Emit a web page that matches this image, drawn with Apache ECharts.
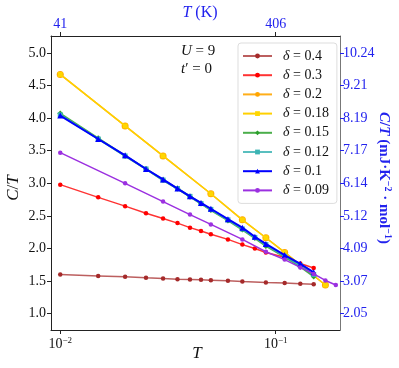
<!DOCTYPE html>
<html><head><meta charset="utf-8">
<script src="https://cdn.jsdelivr.net/npm/echarts@6/dist/echarts.min.js"></script>
<style>html,body{margin:0;padding:0;background:#fff}#c{width:399px;height:368px}</style>
</head><body><div id="c"></div>
<script>
// ---- data ----
const deltas = ['0.4','0.3','0.2','0.18','0.15','0.12','0.1','0.09'];
const T_04 = [0.01,0.015,0.02,0.025,0.03,0.035,0.04,0.045,0.05,0.06,0.07,0.09,0.11,0.13,0.15];
const v_04 = [1.60,1.58,1.565,1.55,1.54,1.53,1.525,1.52,1.515,1.505,1.495,1.48,1.47,1.46,1.45];
const T_03 = [0.01,0.015,0.02,0.025,0.03,0.035,0.04,0.045,0.05,0.06,0.07,0.08,0.09,0.11,0.13,0.15];
const v_03 = [2.98,2.785,2.65,2.54,2.46,2.39,2.32,2.27,2.22,2.14,2.06,2.0,1.94,1.865,1.77,1.70];
const T_02 = [0.01,0.02,0.03,0.05,0.07,0.09,0.11,0.17];
const v_02 = [4.67,3.88,3.42,2.84,2.44,2.165,1.94,1.44];
const T_018 = [0.01,0.02,0.03,0.05,0.07,0.09,0.11,0.17];
const v_018 = [4.67,3.88,3.42,2.84,2.44,2.165,1.94,1.44];
const T_mid = [0.01,0.015,0.02,0.025,0.03,0.035,0.04,0.045,0.05,0.06,0.07,0.08,0.09,0.11,0.13,0.15];
const v_015 = [4.07,3.69,3.42,3.22,3.05,2.92,2.795,2.69,2.59,2.43,2.29,2.16,2.04,1.87,1.72,1.57];
const v_012 = [4.05,3.68,3.42,3.22,3.05,2.92,2.80,2.69,2.60,2.44,2.30,2.17,2.06,1.88,1.74,1.60];
const v_01  = [4.04,3.68,3.43,3.22,3.06,2.92,2.80,2.70,2.61,2.45,2.32,2.18,2.07,1.90,1.765,1.635];
const T_009 = [0.01,0.02,0.03,0.04,0.05,0.07,0.09,0.11,0.13,0.15,0.17,0.19];
const v_009 = [3.47,3.0,2.72,2.52,2.37,2.14,1.95,1.83,1.71,1.61,1.51,1.44];
const leftTicks = [1.0,1.5,2.0,2.5,3.0,3.5,4.0,4.5,5.0];
const rightLabels = ['2.05','3.07','4.09','5.12','6.14','7.17','8.19','9.21','10.24'];
const topTickT = [0.01, 0.1];
const topLabels = ['41','406'];

const colors = ['#a52a2a','#ff0000','#ffa500','#ffd700','#2ca02c','#3cb4b4','#0000ff','#9b30e0'];
const lineColors = ['rgba(165,42,42,0.75)','rgba(255,0,0,0.8)','rgba(255,165,0,0.9)','#ffd000','rgba(44,160,44,0.85)','rgba(60,180,180,0.85)','#0000ff','#9b30e0'];
const symbols = ['circle','circle','circle','rect','diamond','rect','triangle','circle'];
const symSizes = [4.5,4.5,7,5,6,5,6,4.5];
const Ts = [T_04,T_03,T_02,T_018,T_mid,T_mid,T_mid,T_009];
const Vs = [v_04,v_03,v_02,v_018,v_015,v_012,v_01,v_009];

const SERIF = 'Liberation Serif, DejaVu Serif, serif';
const names = deltas.map(d => 'δ = ' + d);

const series = names.map((n, k) => ({
  name: n, type: 'line', xAxisIndex: 0, yAxisIndex: 0,
  data: Ts[k].map((t, i) => [t, Vs[k][i]]),
  symbol: symbols[k], symbolSize: symSizes[k], showAllSymbol: true,
  itemStyle: {color: colors[k]},
  lineStyle: {color: lineColors[k], width: k >= 4 && k <= 6 ? 2 : 1.5},
  animation: false, z: 2 + k
}));

const isPow10 = v => Math.abs(Math.log10(v) - Math.round(Math.log10(v))) < 1e-6;
const xmin = 0.00906, xmax = 0.1987;
const ymin = 0.75, ymax = 5.26;

const chart = echarts.init(document.getElementById('c'), null, {renderer: 'canvas'});
chart.setOption({
  backgroundColor: '#fff',
  animation: false,
  grid: {left: 51, right: 59, top: 36, bottom: 38, containLabel: false},
  xAxis: [
    {type: 'log', logBase: 10, min: xmin, max: xmax, position: 'bottom',
     axisLine: {show: true, lineStyle: {color: '#222', width: 1}},
     axisTick: {show: true, inside: false, length: 4, lineStyle: {color: '#222'}},
     splitLine: {show: false},
     axisLabel: {showMinLabel: false, showMaxLabel: false, margin: 6,
       formatter: v => isPow10(v) ? '{b|10}{s|' + (Math.round(Math.log10(v)) < 0 ? '−' : '') + Math.abs(Math.round(Math.log10(v))) + '}' : '',
       rich: {b: {fontFamily: SERIF, fontSize: 14, color: '#111'}, s: {fontFamily: SERIF, fontSize: 9, color: '#111', padding: [0,0,8,0]}}}},
    {type: 'log', logBase: 10, min: xmin, max: xmax, position: 'top',
     axisLine: {show: true, lineStyle: {color: '#222', width: 1}},
     axisTick: {show: true, inside: false, length: 4, lineStyle: {color: '#222'}},
     splitLine: {show: false},
     axisLabel: {showMinLabel: false, showMaxLabel: false, margin: 5, color: '#2222ee', fontFamily: SERIF, fontSize: 14,
       formatter: v => { for (let i = 0; i < topTickT.length; i++) if (Math.abs(v - topTickT[i]) < 1e-9) return topLabels[i]; return ''; }}}
  ],
  yAxis: [
    {type: 'value', min: ymin, max: ymax, splitNumber: 9, position: 'left',
     axisLine: {show: true, lineStyle: {color: '#222'}},
     axisTick: {show: true, inside: false, length: 4, lineStyle: {color: '#222'}},
     splitLine: {show: false},
     axisLabel: {showMinLabel: false, showMaxLabel: false, margin: 5, color: '#111', fontFamily: SERIF, fontSize: 14,
       formatter: v => { for (let i = 0; i < leftTicks.length; i++) if (Math.abs(v - leftTicks[i]) < 1e-6) return leftTicks[i].toFixed(1); return ''; }}},
    {type: 'value', min: ymin, max: ymax, splitNumber: 9, position: 'right',
     axisLine: {show: true, lineStyle: {color: '#777'}},
     axisTick: {show: true, inside: false, length: 4, lineStyle: {color: '#2222ee'}},
     splitLine: {show: false},
     axisLabel: {showMinLabel: false, showMaxLabel: false, margin: 3, color: '#2222ee', fontFamily: SERIF, fontSize: 14,
       formatter: v => { for (let i = 0; i < leftTicks.length; i++) if (Math.abs(v - leftTicks[i]) < 1e-6) return rightLabels[i]; return ''; }}}
  ],
  legend: {
    orient: 'vertical', left: 238, top: 43, width: 95,
    padding: [5, 8, 5, 4], itemGap: 3.2, itemWidth: 29, itemHeight: 6,
    backgroundColor: '#fff', borderColor: '#ddd', borderWidth: 1, borderRadius: 3,
    data: names,
    formatter: n => '{d|δ} = ' + n.slice(4),
    textStyle: {fontFamily: SERIF, fontSize: 14, color: '#111', lineHeight: 16, padding: [0,0,0,6],
      rich: {d: {fontFamily: SERIF, fontStyle: 'italic', fontSize: 14, color: '#111'}}}
  },
  graphic: [
    {type: 'text', left: 181, top: 44, style: {text: '{i|U} = 9', font: '15px ' + SERIF, fill: '#111',
      rich: {i: {fontStyle: 'italic', fontFamily: SERIF, fontSize: 15, fill: '#111'}}}},
    {type: 'text', left: 181, top: 62, style: {text: "{i|t}′ = 0", font: '15px ' + SERIF, fill: '#111',
      rich: {i: {fontStyle: 'italic', fontFamily: SERIF, fontSize: 15, fill: '#111'}}}},
    {type: 'text', x: 200, y: 13, style: {text: '{i|T} (K)', font: '16px ' + SERIF, fill: '#2222ee', align: 'center', verticalAlign: 'middle',
      rich: {i: {fontStyle: 'italic', fontFamily: SERIF, fontSize: 16, fill: '#2222ee'}}}},
    {type: 'text', x: 197, y: 354, style: {text: 'T', font: 'italic 17px ' + SERIF, fill: '#111', align: 'center', verticalAlign: 'middle'}},
    {type: 'text', x: 14, y: 188, rotation: Math.PI / 2, style: {text: '{i|C}/{i|T}', font: '17px ' + SERIF, fill: '#111', align: 'center', verticalAlign: 'middle',
      rich: {i: {fontStyle: 'italic', fontFamily: SERIF, fontSize: 17, fill: '#111'}}}},
    {type: 'text', x: 384, y: 178, rotation: -Math.PI / 2, style: {text: '{i|C}/{i|T} (mJ·K{s|−2} · mol{s|−1})', font: 'bold 15px ' + SERIF, fill: '#2222ee', align: 'center', verticalAlign: 'middle',
      rich: {i: {fontStyle: 'italic', fontWeight: 'bold', fontFamily: SERIF, fontSize: 15, fill: '#2222ee'}, s: {fontFamily: SERIF, fontWeight: 'bold', fontSize: 10, fill: '#2222ee', padding: [0,0,8,0]}}}}
  ],
  series: series
});
</script></body></html>
